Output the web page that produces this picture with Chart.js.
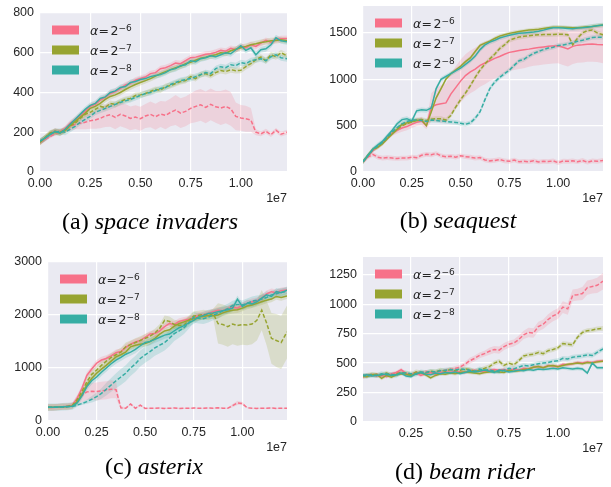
<!DOCTYPE html>
<html>
<head>
<meta charset="utf-8">
<script src="https://cdn.jsdelivr.net/npm/chart.js@4.4.1/dist/chart.umd.min.js"></script>
<style>
  body { margin: 0; background: #fff; }
  #wrap { position: relative; width: 611px; height: 487px; overflow: hidden; }
  canvas { position: absolute; }
  .cap { position: absolute; font: 24px "Liberation Serif", "Times New Roman", serif; line-height: 30px; text-align: center; color: #000; }
</style>
</head>
<body>
<div id="wrap">
  <canvas id="pa" width="300" height="215" style="left:0;top:0"></canvas>
  <canvas id="pb" width="306" height="215" style="left:305px;top:0"></canvas>
  <canvas id="pc" width="300" height="230" style="left:0;top:245px"></canvas>
  <canvas id="pd" width="306" height="230" style="left:305px;top:245px"></canvas>
  <div class="cap" style="left:0;width:300px;top:206px">(a) <i>space invaders</i></div>
  <div class="cap" style="left:305px;width:306px;top:205px">(b) <i>seaquest</i></div>
  <div class="cap" style="left:4px;width:300px;top:451px">(c) <i>asterix</i></div>
  <div class="cap" style="left:315px;width:300px;top:456px">(d) <i>beam rider</i></div>
</div>
<script>
// training steps (x 1e7)
const steps = [0, 0.025, 0.05, 0.075, 0.1, 0.125, 0.15, 0.175, 0.2, 0.225,
  0.25, 0.275, 0.3, 0.325, 0.35, 0.375, 0.4, 0.425, 0.45, 0.475,
  0.5, 0.525, 0.55, 0.575, 0.6, 0.625, 0.65, 0.675, 0.7, 0.725,
  0.75, 0.775, 0.8, 0.825, 0.85, 0.875, 0.9, 0.925, 0.95, 0.975,
  1.0, 1.025, 1.05, 1.075, 1.1, 1.125, 1.15, 1.175, 1.2, 1.23];
const xTicks = [0, 0.25, 0.5, 0.75, 1.0];
const alphaExps = ['\u22126', '\u22127', '\u22128'];
const palette = ['#f77189', '#97a431', '#36ada4'];

// (a) space invaders
const aTicks = [0, 200, 400, 600, 800];
const aS6 = [150,168,190,205,200,218,245,262,285,305, 330,340,362,375,395,405,420,438,445,462,
  470,478,495,500,520,525,535,548,545,560, 575,578,585,592,595,602,612,608,622,615,
  632,625,640,632,648,662,652,665,670,672];
const aS7 = [150,172,195,200,198,210,235,255,275,295, 320,330,345,365,380,388,400,415,428,440,
  450,460,470,482,495,505,515,525,532,545, 552,562,572,578,585,590,600,598,610,618,
  625,632,640,645,652,655,660,662,665,660];
const aS8 = [155,170,188,205,195,215,240,265,290,315, 335,345,370,378,400,408,425,430,450,455,
  465,470,480,485,490,500,515,520,535,540, 560,555,570,575,585,580,590,600,595,615,
  635,612,625,590,615,620,640,675,660,655];
const aD6 = [150,165,178,192,205,212,228,240,245,250, 258,262,270,282,288,275,290,282,270,276,
  268,282,290,278,292,285,300,312,296,305, 320,330,338,325,340,328,322,330,318,280,
  272,268,262,200,192,205,188,210,190,200];
const aD6Spread = [10,10,10,10,10,15,20,25,30,35, 40,45,50,55,60,60,60,60,60,60,
  60,60,65,65,65,70,70,75,75,75, 75,80,80,80,80,80,85,85,85,70,
  65,65,60,15,12,12,12,12,12,12];
const aD7 = [150,172,195,205,200,210,232,245,270,290, 300,315,330,325,345,340,355,365,370,385,
  388,395,405,415,412,430,435,445,455,460, 480,470,490,495,485,500,510,505,515,510,
  512,530,545,565,578,560,590,580,600,585];
const aD8 = [155,170,190,200,205,200,215,230,250,265, 280,300,310,320,330,340,350,358,365,375,
  385,395,400,410,420,425,440,450,460,465, 470,480,490,500,495,520,530,525,540,535,
  550,545,560,565,570,560,580,590,575,570];

// (b) seaquest
const bTicks = [0, 500, 1000, 1500];
const bS6 = [110,170,230,270,315,370,420,450,475,490, 515,535,550,500,700,725,735,745,840,910,
  980,1040,1080,1110,1150,1175,1200,1225,1245,1270, 1290,1300,1310,1318,1325,1335,1342,1348,1355,1360,
  1362,1345,1328,1355,1368,1372,1378,1380,1375,1372];
const bS6Spread = [10,15,20,20,25,30,30,35,40,40, 40,40,45,40,150,180,200,210,220,230,
  230,230,230,230,230,230,220,220,210,210, 200,200,200,200,190,190,190,190,190,190,
  190,190,190,190,190,190,190,190,190,200];
const bS7 = [110,180,245,265,305,360,410,460,515,530, 545,555,560,500,650,800,900,1000,1060,1100,
  1140,1190,1230,1300,1365,1390,1410,1440,1465,1480, 1495,1505,1515,1522,1530,1535,1540,1548,1555,1562,
  1562,1560,1558,1555,1555,1560,1565,1570,1578,1584];
const bS8 = [110,175,245,290,330,390,450,520,565,575, 550,660,670,665,690,900,1000,1030,1060,1090,
  1120,1160,1200,1250,1320,1370,1400,1420,1445,1460, 1474,1485,1495,1500,1505,1510,1518,1530,1545,1555,
  1555,1552,1548,1545,1552,1555,1562,1570,1578,1584];
const bD6 = [110,160,190,160,150,155,150,145,150,150, 160,155,180,190,185,200,175,165,170,160,
  175,165,160,150,155,130,120,125,135,120, 115,130,110,115,110,120,108,115,112,120,
  100,118,115,120,110,125,105,120,115,125];
const bD7 = [110,175,240,270,310,370,420,460,500,520, 540,560,565,555,570,575,575,560,610,700,
  780,850,930,1020,1100,1165,1220,1270,1330,1370, 1420,1440,1455,1463,1470,1475,1480,1482,1482,1484,
  1485,1485,1480,1372,1445,1500,1525,1530,1500,1480];
const bD8 = [110,180,240,280,320,380,430,480,520,545, 560,560,555,545,560,555,550,545,540,535,
  525,515,530,580,650,780,900,970,1020,1060, 1098,1150,1200,1215,1250,1280,1300,1320,1336,1345,
  1365,1370,1380,1395,1409,1420,1435,1450,1453,1453];

// (c) asterix
const cTicks = [0, 1000, 2000, 3000];
const cS6 = [260,255,265,270,275,290,430,620,860,980, 1090,1150,1180,1230,1290,1310,1390,1450,1490,1520,
  1580,1640,1650,1700,1780,1840,1820,1880,1900,1920, 1950,1990,2000,2030,2060,2090,2080,2120,2150,2130,
  2180,2220,2250,2270,2320,2400,2440,2420,2460,2470];
const cS7 = [255,260,262,270,272,285,360,500,680,800, 900,980,1050,1130,1210,1250,1300,1400,1430,1450,
  1460,1500,1560,1640,1700,1720,1790,1840,1870,1900, 1930,1960,1970,1990,1985,2000,2040,2070,2090,2100,
  2130,2170,2190,2220,2250,2280,2300,2350,2330,2360];
const cS8 = [260,258,262,268,275,280,340,480,650,760, 830,920,1000,1080,1150,1200,1260,1300,1350,1420,
  1480,1500,1540,1580,1620,1640,1700,1760,1800,1850, 1900,1960,1990,2030,2040,2060,2080,2100,2130,2300,
  2160,2220,2210,2250,2320,2380,2350,2440,2420,2466];
const cD6 = [260,262,265,270,280,300,400,480,550,560, 555,570,580,600,590,250,240,320,240,300,
  238,242,240,245,238,240,245,238,242,240, 245,240,242,245,240,248,242,240,290,340,
  330,250,240,238,242,240,245,238,240,242];
const cD6Spread = [10,10,10,10,15,30,80,120,150,160, 170,170,170,170,160,30,20,20,15,15,
  10,10,10,10,10,10,10,10,10,10, 10,10,10,10,10,10,10,10,30,40,
  30,10,10,10,10,10,10,10,10,10];
const cD7 = [258,260,265,268,275,290,400,560,740,880, 960,1050,1130,1200,1250,1300,1400,1440,1480,1520,
  1560,1600,1660,1750,1900,1880,1820,1800,1810,1900, 1980,1990,2010,1990,2030,1840,1820,1780,1830,1800,
  1820,1810,1830,1900,2090,1850,1560,1520,1480,1680];
const cD7Spread = [10,10,10,10,10,20,40,60,70,80, 80,80,80,80,80,80,80,80,80,80,
  80,80,80,80,90,90,90,90,90,90, 90,90,90,90,90,380,380,380,380,380,
  380,380,380,380,380,420,480,500,500,500];
const cD8 = [258,258,260,262,268,275,300,330,365,410, 460,520,600,680,760,830,900,1000,1080,1180,
  1250,1310,1380,1430,1480,1560,1650,1700,1760,1850, 1960,1940,1930,1960,2000,2030,2080,2120,2180,2200,
  2190,2220,2260,2280,2300,2330,2380,2400,2430,2440];
const cD8Spread = [10,10,10,10,10,15,20,30,40,60, 80,100,120,130,140,150,150,150,150,150,
  150,150,150,150,150,150,140,130,120,110, 100,100,100,100,100,100,90,90,90,90,
  90,90,90,90,80,80,80,80,80,80];

// (d) beam rider
const dTicks = [0, 250, 500, 750, 1000, 1250];
const dS6 = [380,395,400,390,400,385,410,420,445,410, 400,415,395,410,420,405,415,425,420,430,
  425,420,435,440,430,425,440,445,440,445, 435,450,440,455,450,465,470,460,480,475,
  470,490,485,495,505,500,510,505,515,520];
const dS7 = [390,385,400,405,370,395,380,400,410,405, 395,410,420,400,375,395,410,405,415,410,
  420,425,420,415,410,420,425,430,425,420, 440,430,435,445,450,465,470,460,475,480,
  470,480,490,495,500,495,505,500,510,515];
const dS8 = [395,400,390,395,400,410,395,400,415,390, 385,410,420,405,400,415,410,420,415,425,
  410,420,430,425,430,440,430,420,440,435, 425,430,440,435,445,440,450,445,450,455,
  450,460,455,450,455,450,415,500,460,460];
const dD6 = [390,400,395,405,390,410,400,415,420,410, 405,420,415,430,420,425,430,440,445,455,
  465,490,520,540,565,580,600,615,610,640, 660,670,700,740,760,755,810,830,870,900,
  920,975,960,1075,1080,1090,1140,1150,1160,1195];
const dD6Spread = [10,10,10,10,10,10,10,10,10,10, 10,10,10,10,10,10,10,15,15,20,
  20,20,25,25,25,25,30,30,30,30, 30,30,35,35,40,40,40,40,45,45,
  45,50,50,50,50,55,60,60,65,70];
const dD7 = [385,395,405,395,400,415,395,410,420,415, 400,425,420,415,430,425,440,430,445,435,
  440,450,445,430,440,455,470,500,515,480, 500,485,520,560,570,575,590,580,605,615,
  630,665,660,655,720,760,775,780,790,795];
const dD8 = [395,390,400,395,410,400,405,395,420,415, 410,405,425,420,430,425,435,440,445,440,
  450,445,440,430,450,440,445,430,425,440, 455,450,465,480,475,485,495,500,505,515,
  520,540,535,550,555,560,570,565,590,620];

const TEXT = '#262626';

function rgba(hex, a) {
  const n = parseInt(hex.slice(1), 16);
  return `rgba(${n >> 16},${(n >> 8) & 255},${n & 255},${a})`;
}

function pts(vals, off = 0, sign = 0) {
  return vals.map((v, i) => {
    const s = Array.isArray(off) ? off[i] : off;
    return { x: steps[i], y: v + sign * s };
  });
}

// one series = band (upper+lower) + line
function series(vals, spread, k, dashed) {
  const color = palette[k];
  return [
    { data: pts(vals, spread, 1), borderWidth: 0, borderColor: 'rgba(0,0,0,0)',
      backgroundColor: rgba(color, 0.2), fill: '+1', pointRadius: 0, order: 20 },
    { data: pts(vals, spread, -1), borderWidth: 0, borderColor: 'rgba(0,0,0,0)',
      fill: false, pointRadius: 0, order: 20 },
    { data: pts(vals), borderColor: color, borderWidth: 1.5, borderDash: dashed ? [4, 2] : [],
      fill: false, pointRadius: 0, order: 3 - k }
  ];
}

const decor = {
  id: 'decor',
  beforeDraw(chart) {
    const a = chart.chartArea, ctx = chart.ctx;
    ctx.save();
    ctx.fillStyle = '#eaeaf2';
    ctx.fillRect(a.left, a.top, a.right - a.left, a.bottom - a.top);
    ctx.restore();
  },
  afterDraw(chart) {
    const a = chart.chartArea, ctx = chart.ctx;
    ctx.save();
    // legend
    palette.forEach((c, k) => {
      const cy = a.top + 17 + k * 20;
      const px = a.left + 12;
      ctx.fillStyle = c;
      ctx.fillRect(px, cy - 4.5, 27, 9);
      const tx = px + 38;
      ctx.fillStyle = TEXT;
      ctx.textAlign = 'left';
      ctx.textBaseline = 'alphabetic';
      ctx.font = 'italic 12.5px "DejaVu Sans"';
      ctx.fillText('\u03b1', tx, cy + 4.5);
      ctx.font = '12.5px "DejaVu Sans"';
      ctx.fillText('=', tx + 8.5, cy + 4.5);
      ctx.fillText('2', tx + 20.5, cy + 4.5);
      ctx.font = '9px "DejaVu Sans"';
      ctx.fillText(alphaExps[k], tx + 28.5, cy + 0.5);
    });
    // offset label
    ctx.font = '12.5px "Liberation Sans"';
    ctx.textAlign = 'right';
    ctx.fillText('1e7', a.right, a.bottom + 30);
    ctx.restore();
  }
};

function makePanel(id, opt) {
  const datasets = [].concat(
    series(opt.s[0], opt.sp[0], 0, false),
    series(opt.s[1], opt.sp[1], 1, false),
    series(opt.s[2], opt.sp[2], 2, false),
    series(opt.s[3], opt.sp[3], 0, true),
    series(opt.s[4], opt.sp[4], 1, true),
    series(opt.s[5], opt.sp[5], 2, true)
  );
  const font = { family: '"Liberation Sans", Arial, sans-serif', size: 12.5 };
  new Chart(document.getElementById(id), {
    type: 'line',
    data: { datasets },
    options: {
      responsive: false,
      animation: false,
      events: [],
      layout: { padding: opt.pad },
      elements: { line: { tension: 0 } },
      plugins: { legend: { display: false }, tooltip: { enabled: false } },
      scales: {
        x: {
          type: 'linear', min: opt.xmin, max: 1.23,
          afterBuildTicks: ax => { ax.ticks = xTicks.filter(v => v >= ax.min).map(v => ({ value: v })); },
          afterFit: ax => { ax.height = 20; ax.paddingLeft = 0; ax.paddingRight = 0; },
          ticks: { callback: v => v.toFixed(2), font, color: TEXT, padding: 4, maxRotation: 0, autoSkip: false },
          grid: { color: '#ffffff', lineWidth: 1.2, drawTicks: false },
          border: { display: false }
        },
        y: {
          type: 'linear', min: 0, max: opt.ymax,
          afterBuildTicks: ax => { ax.ticks = opt.yTicks.map(v => ({ value: v })); },
          afterFit: ax => { ax.width = opt.yw; ax.paddingTop = 0; ax.paddingBottom = 0; },
          ticks: { callback: v => String(v), font, color: TEXT, padding: 6, autoSkip: false },
          grid: { color: '#ffffff', lineWidth: 1.2, drawTicks: false },
          border: { display: false }
        }
      }
    },
    plugins: [decor]
  });
}

makePanel('pa', {
  s: [aS6, aS7, aS8, aD6, aD7, aD8], sp: [15, 15, 15, aD6Spread, 15, 15],
  xmin: 0, ymax: 800, yTicks: aTicks, yw: 40,
  pad: { left: 0, top: 13, right: 13, bottom: 23 }
});
makePanel('pb', {
  s: [bS6, bS7, bS8, bD6, bD7, bD8], sp: [bS6Spread, 20, 25, 25, 25, 25],
  xmin: 0, ymax: 1790, yTicks: bTicks, yw: 58,
  pad: { left: 0, top: 6, right: 8, bottom: 23 }
});
makePanel('pc', {
  s: [cS6, cS7, cS8, cD6, cD7, cD8], sp: [60, 60, 70, cD6Spread, cD7Spread, cD8Spread],
  xmin: 0, ymax: 3000, yTicks: cTicks, yw: 48,
  pad: { left: 0, top: 17, right: 13, bottom: 34 }
});
makePanel('pd', {
  s: [dS6, dS7, dS8, dD6, dD7, dD8], sp: [15, 15, 15, dD6Spread, 20, 20],
  xmin: 0.005, ymax: 1400, yTicks: dTicks, yw: 58,
  pad: { left: 0, top: 12, right: 8, bottom: 33 }
});
</script>
</body>
</html>
